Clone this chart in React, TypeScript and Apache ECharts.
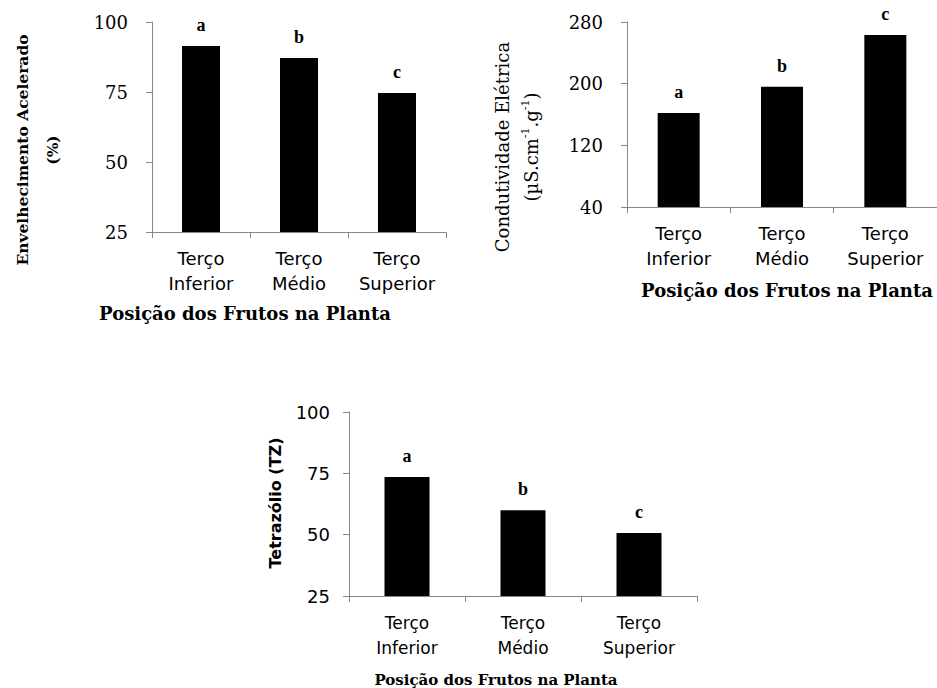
import React, { useEffect, useRef } from "react";
import * as echarts from "echarts";

const categories = ["Terço\nInferior", "Terço\nMédio", "Terço\nSuperior"];
const envelhecimento = [91.4, 87.1, 74.6];
const condutividade = [162, 196, 263];
const tetrazolio = [73.5, 60, 50.7];
const letters = ["a", "b", "c"];
const ticks1 = [25, 50, 75, 100];
const ticks2 = [40, 120, 200, 280];
const ticks3 = [25, 50, 75, 100];

const AXIS = "#888888";
const SERIF = "'DejaVu Serif', serif";
const SANS = "'DejaVu Sans', sans-serif";

function xAxis(gridIndex: number, size: number) {
  return {
    type: "category",
    gridIndex,
    data: categories,
    axisLine: { lineStyle: { color: AXIS, width: 1 } },
    axisTick: { show: true, length: 6, lineStyle: { color: AXIS } },
    axisLabel: {
      interval: 0,
      color: "#000",
      fontFamily: SANS,
      fontSize: size,
      lineHeight: 25,
      margin: 14,
    },
  };
}

function yAxis(gridIndex: number, ticks: number[], font: string, size: number, margin: number) {
  return {
    type: "value",
    gridIndex,
    min: ticks[0],
    max: ticks[ticks.length - 1],
    splitLine: { show: false },
    axisLine: { show: true, lineStyle: { color: AXIS, width: 1 } },
    axisTick: { show: true, length: 6, lineStyle: { color: AXIS }, customValues: ticks },
    axisLabel: {
      color: "#000",
      fontFamily: font,
      fontSize: size,
      margin,
      customValues: ticks,
      showMinLabel: true,
      showMaxLabel: true,
    },
  };
}

function barSeries(idx: number, data: number[], width: number) {
  return {
    type: "bar",
    xAxisIndex: idx,
    yAxisIndex: idx,
    data,
    barWidth: width,
    itemStyle: { color: "#000" },
    label: {
      show: true,
      position: "top",
      distance: 12,
      color: "#000",
      fontFamily: "'Liberation Serif', serif",
      fontWeight: "bold",
      fontSize: 18,
      formatter: (p: any) => letters[p.dataIndex],
    },
  };
}

export default function App() {
  const ref = useRef<HTMLDivElement>(null);
  useEffect(() => {
    if (!ref.current) return;
    const chart = echarts.init(ref.current, null, { renderer: "svg" });
    chart.setOption({
      animation: false,
      backgroundColor: "#fff",
      grid: [
        { left: 152, top: 22, width: 294, height: 210 },
        { left: 627, top: 22, width: 321, height: 185 },
        { left: 349, top: 412, width: 348, height: 184 },
      ],
      xAxis: [xAxis(0, 18), xAxis(1, 18), xAxis(2, 17)],
      yAxis: [
        yAxis(0, ticks1, SERIF, 18, 24),
        yAxis(1, ticks2, SERIF, 18, 24),
        yAxis(2, ticks3, SANS, 18, 19),
      ],
      series: [
        barSeries(0, envelhecimento, 38),
        barSeries(1, condutividade, 42),
        barSeries(2, tetrazolio, 45),
      ],
      graphic: [
        {
          type: "text",
          x: 37,
          y: 150,
          rotation: Math.PI / 2,
          style: {
            text: "Envelhecimento Acelerado\n(%)",
            fill: "#000",
            font: `bold 15.5px ${SERIF}`,
            lineHeight: 30,
            align: "center",
            verticalAlign: "middle",
          },
        },
        {
          type: "text",
          x: 517,
          y: 147,
          rotation: Math.PI / 2,
          style: {
            text: "{t|Condutividade Elétrica}\n{t|(µS.cm}{s|-1}{t|.g}{s|-1}{t|)}",
            fill: "#000",
            align: "center",
            verticalAlign: "middle",
            rich: {
              t: { fontFamily: SERIF, fontSize: 18, fill: "#000", lineHeight: 29 },
              s: {
                fontFamily: SERIF,
                fontSize: 11,
                fill: "#000",
                lineHeight: 11,
                verticalAlign: "top",
                padding: [3, 0, 0, 0],
              },
            },
          },
        },
        {
          type: "text",
          x: 275,
          y: 503,
          rotation: Math.PI / 2,
          style: {
            text: "Tetrazólio (TZ)",
            fill: "#000",
            font: `bold 16px ${SANS}`,
            align: "center",
            verticalAlign: "middle",
          },
        },
        {
          type: "text",
          x: 245,
          y: 313,
          style: {
            text: "Posição dos Frutos na Planta",
            fill: "#000",
            font: `bold 18px ${SERIF}`,
            align: "center",
            verticalAlign: "middle",
          },
        },
        {
          type: "text",
          x: 787,
          y: 290,
          style: {
            text: "Posição dos Frutos na Planta",
            fill: "#000",
            font: `bold 18px ${SERIF}`,
            align: "center",
            verticalAlign: "middle",
          },
        },
        {
          type: "text",
          x: 496,
          y: 680,
          style: {
            text: "Posição dos Frutos na Planta",
            fill: "#000",
            font: `bold 15px ${SERIF}`,
            align: "center",
            verticalAlign: "middle",
          },
        },
      ],
    });
    return () => chart.dispose();
  }, []);
  return (
    <div
      ref={ref}
      style={{ position: "fixed", left: 0, top: 0, width: 937, height: 688, background: "#fff" }}
    />
  );
}
